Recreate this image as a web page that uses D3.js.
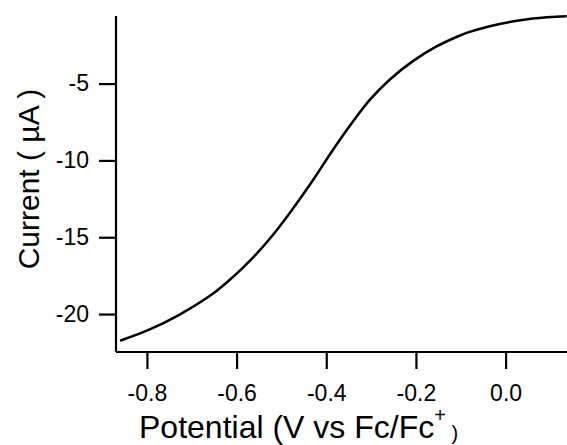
<!DOCTYPE html>
<html>
<head>
<meta charset="utf-8">
<script src="https://cdn.jsdelivr.net/npm/d3@7"></script>
<style>
  body { margin: 0; background: #fff; }
  text { font-family: "Liberation Sans", Arial, sans-serif; fill: #000; }
</style>
</head>
<body>
<svg class="chart" width="567" height="445"></svg>
<script>
// values
var potential = [-0.860, -0.795, -0.728, -0.654, -0.609, -0.564, -0.527, -0.483, -0.429, -0.392,
                 -0.347, -0.303, -0.258, -0.206, -0.154, -0.113, -0.087, -0.013, 0.061, 0.136]
var current = [-21.74, -21.02, -20.05, -18.70, -17.61, -16.34, -15.13, -13.48, -11.26, -9.61,
               -7.73, -6.06, -4.73, -3.52, -2.58, -2.01, -1.70, -1.12, -0.77, -0.62]
var xTicks = [-0.8, -0.6, -0.4, -0.2, 0.0]
var yTicks = [-5, -10, -15, -20]

var margin = {top: 16, right: 0, bottom: 93, left: 116}
var width = 567 - margin.left - margin.right
var height = 445 - margin.top - margin.bottom

const svg = d3.select(".chart")
  .append("g")
    .attr("transform", "translate(" + margin.left + "," + margin.top + ")");

var x = d3.scaleLinear().domain([-0.869, 0.137]).range([0, width])
var y = d3.scaleLinear().domain([-22.47, -0.60]).range([height, 0])

var data = potential.map(function(v, i) { return {v: v, c: current[i]} })

// x axis
var xAxis = svg.append("g")
  .attr("transform", "translate(0," + height + ")")
  .call(d3.axisBottom(x).tickValues(xTicks).tickSize(17).tickPadding(16)
    .tickFormat(function(d) { return d.toFixed(1) }))
xAxis.select(".domain").attr("d", "M0,0H" + width)

// y axis
var yAxis = svg.append("g")
  .call(d3.axisLeft(y).tickValues(yTicks).tickSize(17).tickPadding(10)
    .tickFormat(function(d) { return String(d) }))
yAxis.select(".domain").attr("d", "M0," + height + "V0")

svg.selectAll(".domain, .tick line")
  .attr("stroke", "#000")
  .attr("stroke-width", 2.2)
svg.selectAll("g").attr("font-size", null).attr("font-family", null)
svg.selectAll(".tick text")
  .style("font-size", "23px")
  .attr("fill", "#000")

// the curve
svg.append("path")
  .datum(data)
  .attr("fill", "none")
  .attr("stroke", "#000")
  .attr("stroke-width", 2.5)
  .attr("d", d3.line()
    .x(function(d) { return x(d.v) })
    .y(function(d) { return y(d.c) })
    .curve(d3.curveCatmullRom.alpha(0.5)))

// axis titles
var xt = svg.append("text")
  .attr("x", 139 - margin.left)
  .attr("y", 437.5 - margin.top)
  .style("font-size", "32px")
xt.append("tspan").text("Potential (V vs Fc/Fc")
xt.append("tspan").text("+").style("font-size", "20px").attr("dy", -15.5)
xt.append("tspan").text(" )").style("font-size", "20px").attr("dy", 18)

svg.append("text")
  .attr("transform", "translate(" + (38.5 - margin.left) + "," + (179 - margin.top) + ") rotate(-90)")
  .attr("text-anchor", "middle")
  .style("font-size", "30px")
  .text("Current ( \u00b5A )")
</script>
</body>
</html>
